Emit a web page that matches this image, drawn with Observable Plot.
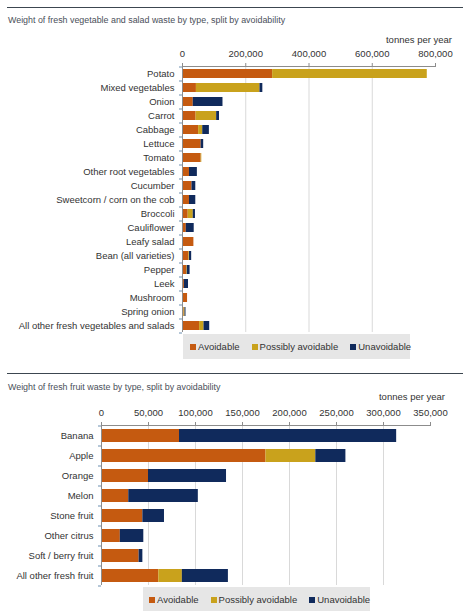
<!DOCTYPE html>
<html><head><meta charset="utf-8">
<script src="https://cdn.jsdelivr.net/npm/d3@7"></script>
<script src="https://cdn.jsdelivr.net/npm/@observablehq/plot@0.6"></script>
<style>
body{margin:0;background:#fff;font-family:"Liberation Sans",Arial,sans-serif;}
#root{position:relative;width:474px;height:611px;overflow:hidden;background:#fff;}
.rule{position:absolute;left:7px;width:456px;height:0;border-top:1.5px solid #3c4650;}
.title{position:absolute;left:8px;font-size:8.9px;color:#4a4f5a;white-space:nowrap;}
.unit{position:absolute;font-size:9.5px;color:#333;white-space:nowrap;}
.chart{position:absolute;left:0;}
.legend{position:absolute;background:#e6e6e6;font-size:9.5px;color:#333;display:flex;align-items:center;box-sizing:border-box;white-space:nowrap;}
.legend span.item{display:inline-flex;align-items:center;margin-right:12px;}
.sw{display:inline-block;width:6px;height:6px;margin-right:2px;}
</style>
</head><body>
<div id="root">
  <div class="rule" style="top:7px"></div>
  <div class="title" style="top:15px">Weight of fresh vegetable and salad waste by type, split by avoidability</div>
  <div class="unit" style="top:34px;right:22px">tonnes per year</div>
  <div class="chart" id="c1" style="top:31px"></div>
  <div class="legend" id="l1" style="left:183px;top:334px;width:227px;height:25px;padding-left:7px"></div>

  <div class="rule" style="top:373px"></div>
  <div class="title" style="top:382px">Weight of fresh fruit waste by type, split by avoidability</div>
  <div class="unit" style="top:391px;right:29px">tonnes per year</div>
  <div class="chart" id="c2" style="top:391px"></div>
  <div class="legend" id="l2" style="left:143px;top:587px;width:227px;height:25px;padding-left:6px"></div>
</div>
<script>
const types = ["Avoidable", "Possibly avoidable", "Unavoidable"];
const colors = ["#c55a10", "#c9a21c", "#102a5c"];

const vegCats = ["Potato","Mixed vegetables","Onion","Carrot","Cabbage","Lettuce","Tomato","Other root vegetables","Cucumber","Sweetcorn / corn on the cob","Broccoli","Cauliflower","Leafy salad","Bean (all varieties)","Pepper","Leek","Mushroom","Spring onion","All other fresh vegetables and salads"];
const vegAvoidable   = [285000, 44000, 34000, 43000, 51000, 59000, 59000, 22000, 30000, 22000, 18000, 12000, 36000, 20000, 13000, 6000, 16000, 5000, 54000];
const vegPossibly    = [489000, 201000, 0, 65000, 13000, 0, 2000, 0, 0, 0, 16000, 0, 0, 2000, 2000, 0, 0, 3000, 14000];
const vegUnavoidable = [0, 9000, 94000, 9000, 21000, 8000, 0, 25000, 12000, 20000, 7000, 25000, 0, 7000, 9000, 13000, 0, 3000, 18000];
const vegTicks = [0, 200000, 400000, 600000, 800000];

const fruitCats = ["Banana","Apple","Orange","Melon","Stone fruit","Other citrus","Soft / berry fruit","All other fresh fruit"];
const fruitAvoidable   = [83000, 175000, 50000, 29000, 44000, 20000, 40000, 61000];
const fruitPossibly    = [0, 53000, 0, 0, 0, 0, 0, 25000];
const fruitUnavoidable = [231000, 32000, 83000, 74000, 23000, 25000, 4000, 49000];
const fruitTicks = [0, 50000, 100000, 150000, 200000, 250000, 300000, 350000];

function makeChart(cats, a, p, u, ticks, o) {
  const rows = cats.flatMap((c, i) => [
    {cat: c, type: types[0], value: a[i]},
    {cat: c, type: types[1], value: p[i]},
    {cat: c, type: types[2], value: u[i]}
  ]);
  const step = (o.height - o.marginTop) / cats.length;
  const grid = ticks.slice(1, -1);
  return Plot.plot({
    width: 474, height: o.height,
    marginLeft: o.marginLeft, marginRight: o.marginRight, marginTop: o.marginTop, marginBottom: 0,
    style: {fontFamily: "'Liberation Sans', Arial, sans-serif", fontSize: "9.5px", color: "#333", background: "transparent", overflow: "visible"},
    x: {domain: [0, ticks[ticks.length - 1]]},
    y: {domain: cats, paddingInner: o.padding, paddingOuter: o.padding / 2},
    color: {domain: types, range: colors},
    marks: [
      Plot.ruleX(grid, {stroke: "#d9d9d9"}),
      Plot.barX(rows, {x: "value", y: "cat", fill: "type"}),
      Plot.ruleX([0], {stroke: "#8c8c8c"}),
      Plot.frame({anchor: "top", stroke: "#8c8c8c"}),
      Plot.axisX({anchor: "top", ticks, tickFormat: d3.format(","), tickSize: 4, tickPadding: 6, stroke: "#8c8c8c", fill: "#333", label: null}),
      Plot.axisY({anchor: "left", tickSize: 0, tickPadding: 8, fill: "#333", label: null}),
      Plot.axisY({anchor: "left", ticks: cats, tickFormat: () => "", tickSize: 3, dy: -step / 2, stroke: "#6d8fb0", label: null}),
      Plot.axisY({anchor: "left", ticks: [cats[cats.length - 1]], tickFormat: () => "", tickSize: 3, dy: step / 2, stroke: "#6d8fb0", label: null})
    ]
  });
}

function makeLegend(el) {
  types.forEach((t, i) => {
    const s = document.createElement("span");
    s.className = "item";
    const sw = document.createElement("span");
    sw.className = "sw";
    sw.style.background = colors[i];
    s.appendChild(sw);
    s.appendChild(document.createTextNode(t));
    el.appendChild(s);
  });
}

document.getElementById("c1").appendChild(
  makeChart(vegCats, vegAvoidable, vegPossibly, vegUnavoidable, vegTicks,
    {height: 301, marginTop: 35, marginLeft: 182, marginRight: 39, padding: 0.36}));
document.getElementById("c2").appendChild(
  makeChart(fruitCats, fruitAvoidable, fruitPossibly, fruitUnavoidable, fruitTicks,
    {height: 194, marginTop: 34, marginLeft: 101, marginRight: 44, padding: 0.37}));
makeLegend(document.getElementById("l1"));
makeLegend(document.getElementById("l2"));
</script>
</body></html>
